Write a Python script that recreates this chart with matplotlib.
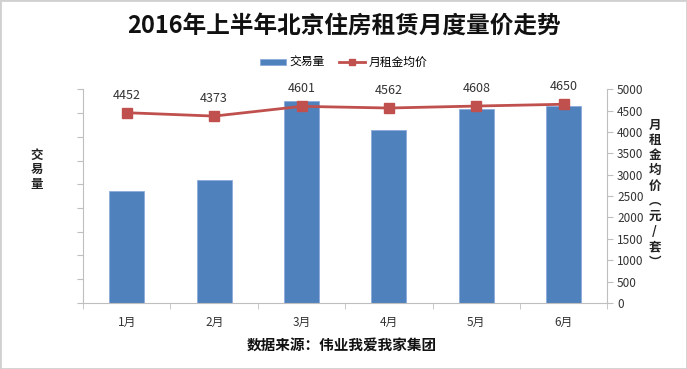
import matplotlib
matplotlib.use('Agg')
import matplotlib.pyplot as plt
from matplotlib.patches import Rectangle

plt.rcParams['font.family'] = ['Noto Sans CJK SC', 'DejaVu Sans']

# data
months = ['1月', '2月', '3月', '4月', '5月', '6月']
volume = [4700, 5190, 8520, 7270, 8160, 8300]   # 交易量 (left axis has no labels)
price = [4452, 4373, 4601, 4562, 4608, 4650]    # 月租金均价

bar_color = '#4F81BD'
line_color = '#C0504D'
axis_grey = '#BFBFBF'

fig = plt.figure(figsize=(6.87, 3.69), dpi=100)
fig.patches.append(Rectangle((0, 0), 1, 1, transform=fig.transFigure,
                             fill=False, edgecolor='#D0D0D0', linewidth=2))

ax = fig.add_axes([0.121, 0.179, 0.763, 0.579])
x = list(range(len(months)))
bars = ax.bar(x, volume, width=0.4, color=bar_color, edgecolor='#8EAADB',
              linewidth=0.6, label='交易量', zorder=2)
ax.set_xlim(-0.5, 5.5)
ax.set_ylim(0, 9000)
ax.set_yticks(range(0, 9001, 1000))
ax.set_yticklabels([])
ax.set_xticks(x)
ax.set_xticklabels(months, fontsize=8.5, color='#333333')
ax.set_xticks([i + 0.5 for i in range(-1, 6)], minor=True)
ax.tick_params(axis='x', which='major', length=0, pad=9)
ax.tick_params(axis='x', which='minor', length=4, color=axis_grey, direction='out')
ax.tick_params(axis='y', length=4, color=axis_grey, direction='out')
for side in ['top', 'right']:
    ax.spines[side].set_visible(False)
ax.spines['left'].set_color(axis_grey)
ax.spines['bottom'].set_color(axis_grey)

ax2 = ax.twinx()
line, = ax2.plot(x, price, color=line_color, linewidth=2, marker='s',
                 markersize=7, label='月租金均价', zorder=3)
ax2.set_ylim(0, 5000)
ax2.set_yticks(range(0, 5001, 500))
ax2.tick_params(axis='y', length=4, color=axis_grey, labelsize=8.5,
                labelcolor='#333333', pad=3)
for side in ['top', 'left', 'bottom']:
    ax2.spines[side].set_visible(False)
ax2.spines['right'].set_color(axis_grey)

for xi, p in zip(x, price):
    ax2.annotate(str(p), (xi, p), textcoords='offset points', xytext=(0, 8),
                 ha='center', va='bottom', fontsize=9, color='#333333')

ax.set_zorder(1)
ax2.set_zorder(2)
ax.patch.set_visible(False)

fig.text(0.5, 0.93, '2016年上半年北京住房租赁月度量价走势', ha='center', va='center',
         fontsize=17, fontweight='bold', color='#111111')
fig.legend([bars, line], ['交易量', '月租金均价'], loc='center',
           bbox_to_anchor=(0.5, 0.83), ncol=2, frameon=False, fontsize=8.5,
           handlelength=2.2, handleheight=0.5, columnspacing=1.2, handletextpad=0.3,
           markerscale=0.7)

fig.text(0.054, 0.54, '\n'.join('交易量'), ha='center', va='center',
         fontsize=9, fontweight='bold', color='#222222', linespacing=1.15)
fig.text(0.953, 0.475, '\n'.join('月租金均价︵元/套︶'), ha='center', va='center',
         fontsize=9, fontweight='bold', color='#222222', linespacing=1.22)

fig.text(0.498, 0.065, '数据来源：伟业我爱我家集团', ha='center', va='center',
         fontsize=10.5, fontweight='bold', color='#111111')

fig.savefig('out.png', dpi=100)
